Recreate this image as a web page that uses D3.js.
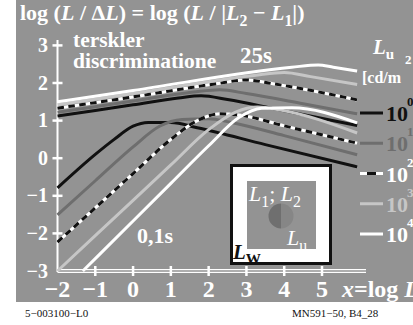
<!DOCTYPE html>
<html lang="en">
<head>
<meta charset="UTF-8">
<title>log (L / ΔL)</title>
<style>
  body { margin: 0; background: #fff; }
  svg { display: block; }
</style>
<script src="https://d3js.org/d3.v7.min.js"></script>
</head>
<body>
<svg width="413" height="325" font-family="'Liberation Serif', 'Times New Roman', serif" font-weight="bold"></svg>
<script>
// axis ticks
const xTicks = [-2, -1, 0, 1, 2, 3, 4, 5];
const yTicks = [-3, -2, -1, 0, 1, 2, 3];

// luminance levels of the surround, exponent of 10 cd/m2
const lumExp = ["0", "1", "2", "3", "4"];

// 25 s adaptation, one array per luminance level [x, y]
const s25_L0 = [[-2, 1.12], [0, 1.42], [1.2, 1.6], [1.8, 1.66], [2.5, 1.56], [3.8, 1.3], [5.93, 0.87]];
const s25_L1 = [[-2, 1.22], [0, 1.52], [1.6, 1.76], [2.3, 1.82], [3.0, 1.72], [4.5, 1.45], [5.93, 1.18]];
const s25_L2 = [[-2, 1.33], [0, 1.63], [2.2, 1.98], [3.0, 2.08], [3.7, 1.98], [5.93, 1.55]];
const s25_L3 = [[-2, 1.42], [0, 1.72], [3.2, 2.2], [4.0, 2.28], [4.7, 2.17], [5.93, 1.96]];
const s25_L4 = [[-2, 1.5], [0, 1.8], [4.2, 2.42], [4.9, 2.48], [5.3, 2.42], [5.93, 2.32]];

// 0,1 s adaptation
const s01_L0 = [[-2, -0.79], [-1, 0.1], [-0.5, 0.5], [0, 0.85], [0.4, 0.95], [1.0, 0.95], [1.7, 0.81], [3.5, 0.36], [5.93, -0.23]];
const s01_L1 = [[-2, -1.51], [-1, -0.6], [0, 0.3], [0.7, 0.85], [1.3, 1.03], [2.0, 1.05], [2.6, 0.95], [4, 0.6], [5.93, 0.09]];
const s01_L2 = [[-2, -2.23], [-1, -1.32], [0, -0.41], [1, 0.5], [1.7, 1.0], [2.3, 1.18], [2.8, 1.15], [4, 0.86], [5.93, 0.4]];
const s01_L3 = [[-2, -3.0], [0, -1.12], [1, -0.18], [2, 0.76], [2.7, 1.22], [3.3, 1.36], [3.9, 1.28], [5.93, 0.67]];
const s01_L4 = [[-1.33, -3.0], [0, -1.67], [1, -0.67], [2, 0.33], [2.8, 1.08], [3.4, 1.33], [4.2, 1.34], [5.93, 0.94]];

const series25 = [s25_L0, s25_L1, s25_L2, s25_L3, s25_L4];
const series01 = [s01_L0, s01_L1, s01_L2, s01_L3, s01_L4];

// line styles per level
const lineColors = ["#111", "#6e6e6e", "#fff", "#c6c6c6", "#fff"];
const textColors = ["#111", "#6e6e6e", "#fff", "#c6c6c6", "#fff"];
const BG = "#939393";

const svg = d3.select("svg");

// gray field
svg.append("rect").attr("x", 16).attr("y", 0).attr("width", 397).attr("height", 302).attr("fill", BG);

const x = d3.scaleLinear().domain([-2, 5]).range([57.5, 322]);
const y = d3.scaleLinear().domain([-3, 3]).range([271, 45.4]);

// rich text helper: runs of {t, it, sub, sup}
function rich(g, px, py, size, fill, runs, anchor) {
    const t = g.append("text").attr("x", px).attr("y", py)
        .attr("font-size", size).attr("fill", fill)
        .attr("text-anchor", anchor || "start");
    let shifted = 0;
    runs.forEach(r => {
        const s = t.append("tspan").text(r.t);
        if (r.it) s.attr("font-style", "italic");
        let dy = 0;
        if (r.sub) { dy = size * 0.25 - shifted; shifted = size * 0.25; s.attr("font-size", size * 0.72); }
        else if (r.sup) { dy = -size * 0.45 - shifted; shifted = -size * 0.45; s.attr("font-size", size * 0.72); }
        else { dy = -shifted; shifted = 0; }
        if (dy) s.attr("dy", dy);
    });
    return t;
}

// title
rich(svg, 20, 20, 22, "#fff", [
    {t: "log ("}, {t: "L", it: true}, {t: " / Δ"}, {t: "L", it: true}, {t: ") = log ("},
    {t: "L", it: true}, {t: " / |"}, {t: "L", it: true}, {t: "2", sub: true}, {t: " − "},
    {t: "L", it: true}, {t: "1", sub: true}, {t: "|)"}
]);

// axes
const axisG = svg.append("g");
axisG.append("line").attr("x1", x(-2)).attr("x2", x(-2)).attr("y1", 40).attr("y2", y(-3) + 1)
    .attr("stroke", "#fff").attr("stroke-width", 2);
axisG.append("line").attr("x1", x(-2)).attr("x2", 366).attr("y1", y(-3) - 1.3).attr("y2", y(-3) - 1.3)
    .attr("stroke", "#fff").attr("stroke-width", 1.3);
axisG.append("line").attr("x1", x(-2)).attr("x2", 366).attr("y1", y(-3) + 1.3).attr("y2", y(-3) + 1.3)
    .attr("stroke", "#fff").attr("stroke-width", 1.3);

axisG.selectAll(".ytick").data(yTicks.filter(d => d > -3)).enter().append("line")
    .attr("x1", x(-2) - 5).attr("x2", x(-2) + 5)
    .attr("y1", d => y(d)).attr("y2", d => y(d))
    .attr("stroke", "#fff").attr("stroke-width", 2.5);
axisG.selectAll(".xtick").data(xTicks.filter(d => d > -2)).enter().append("line")
    .attr("x1", d => x(d)).attr("x2", d => x(d))
    .attr("y1", y(-3) - 5).attr("y2", y(-3) + 5)
    .attr("stroke", "#fff").attr("stroke-width", 2.5);

axisG.selectAll(".ylab").data(yTicks).enter().append("text")
    .attr("x", 48).attr("y", d => y(d) + 6.5)
    .attr("text-anchor", "end").attr("font-size", 20).attr("fill", "#fff")
    .text(d => d < 0 ? "−" + Math.abs(d) : d);
axisG.selectAll(".xlab").data(xTicks).enter().append("text")
    .attr("x", d => x(d)).attr("y", 297)
    .attr("text-anchor", "middle").attr("font-size", 24).attr("fill", "#fff")
    .text(d => d < 0 ? "−" + Math.abs(d) : d);
rich(svg, 342, 297, 24, "#fff", [{t: "x", it: true}, {t: "=log "}, {t: "L", it: true}]);

// curves
const line = d3.line().x(d => x(d[0])).y(d => y(d[1])).curve(d3.curveMonotoneX);
const curveG = svg.append("g").attr("fill", "none").attr("stroke-width", 3).attr("stroke-linecap", "butt");

function drawSet(set) {
    set.forEach((pts, i) => {
        curveG.append("path").attr("d", line(pts)).attr("stroke", lineColors[i]);
        if (i === 2) {
            curveG.append("path").attr("d", line(pts)).attr("stroke", "#111")
                .attr("stroke-dasharray", "6.5,4.5");
        }
    });
}
drawSet(series25);
drawSet(series01);

// labels inside the plot
svg.append("text").attr("x", 73).attr("y", 47).attr("font-size", 21.5).attr("fill", "#fff").text("terskler");
svg.append("text").attr("x", 73).attr("y", 68).attr("font-size", 21.5).attr("fill", "#fff").text("discriminatione");
svg.append("text").attr("x", 240).attr("y", 63).attr("font-size", 23).attr("fill", "#fff").text("25s");
svg.append("text").attr("x", 137).attr("y", 243).attr("font-size", 22).attr("fill", "#fff").text("0,1s");

// legend
rich(svg, 373, 54, 21, "#fff", [{t: "L", it: true}, {t: "u", sub: true}]);
svg.append("text").attr("x", 405).attr("y", 64).attr("font-size", 13).attr("fill", "#fff").text("2");
svg.append("text").attr("x", 362).attr("y", 83).attr("font-size", 16).attr("fill", "#fff").text("[cd/m");

const legY = d3.scalePoint().domain(lumExp).range([113, 234]);
const legG = svg.append("g");
lumExp.forEach((e, i) => {
    const ly = legY(e);
    legG.append("line").attr("x1", 360).attr("x2", 383).attr("y1", ly).attr("y2", ly)
        .attr("stroke", lineColors[i]).attr("stroke-width", 3);
    if (i === 2) {
        legG.append("line").attr("x1", 367).attr("x2", 376).attr("y1", ly).attr("y2", ly)
            .attr("stroke", "#111").attr("stroke-width", 3);
    }
    legG.append("text").attr("x", 386).attr("y", ly + 8).attr("font-size", 22)
        .attr("fill", textColors[i]).text("10");
    legG.append("text").attr("x", 407).attr("y", ly - 7).attr("font-size", 13)
        .attr("fill", textColors[i]).text(e);
});

// inset
const inset = svg.append("g");
inset.append("rect").attr("x", 231.5).attr("y", 165.5).attr("width", 99).attr("height", 98)
    .attr("fill", "#fff").attr("stroke", "#111").attr("stroke-width", 3);
inset.append("rect").attr("x", 247).attr("y", 181).attr("width", 69).attr("height", 68).attr("fill", BG);
inset.append("path").attr("d", d3.arc()({innerRadius: 0, outerRadius: 12.5, startAngle: Math.PI, endAngle: 2 * Math.PI}))
    .attr("transform", "translate(281,216)").attr("fill", "#6f6f6f");
inset.append("path").attr("d", d3.arc()({innerRadius: 0, outerRadius: 12.5, startAngle: 0, endAngle: Math.PI}))
    .attr("transform", "translate(281,216)").attr("fill", "#868686");
rich(inset, 249, 201, 22, "#fff", [{t: "L", it: true}, {t: "1", sub: true}, {t: "; "}, {t: "L", it: true}, {t: "2", sub: true}]).attr("font-weight", "normal");
rich(inset, 287, 245, 22, "#fff", [{t: "L", it: true}, {t: "u", sub: true}]).attr("font-weight", "normal");
rich(inset, 233, 259, 21, "#111", [{t: "L", it: true}, {t: "W", sub: true}]);

// footer
svg.append("text").attr("x", 25).attr("y", 317).attr("font-size", 11).attr("font-weight", "normal")
    .attr("fill", "#111").text("5−003100−L0");
svg.append("text").attr("x", 292).attr("y", 317).attr("font-size", 11).attr("font-weight", "normal")
    .attr("fill", "#111").text("MN591−50, B4_28");
</script>
</body>
</html>
